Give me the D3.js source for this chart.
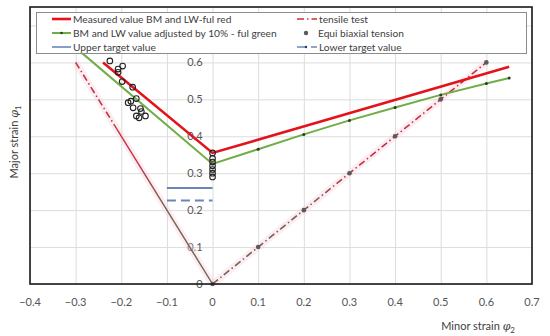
<!DOCTYPE html>
<html>
<head>
<meta charset="utf-8">
<script src="https://cdn.jsdelivr.net/npm/d3@7"></script>
<style>
  body { margin: 0; background: #fff; }
  svg text { font-family: Lato, "Open Sans", sans-serif; }
</style>
</head>
<body>
<svg id="chart"></svg>
<script>
'use strict'

var WIDTH = 550,
	HEIGHT = 336;

// --- data ---
var xTicks = [-0.4, -0.3, -0.2, -0.1, 0, 0.1, 0.2, 0.3, 0.4, 0.5, 0.6, 0.7];
var yTicks = [0, 0.1, 0.2, 0.3, 0.4, 0.5, 0.6, 0.7];
var yLabels = [0, 0.1, 0.2, 0.3, 0.4, 0.5, 0.6]; // 0.7 sits under the legend

var measuredX = [-0.24, 0, 0.65];
var measuredY = [0.60, 0.355, 0.588];

var adjustedX = [-0.30, 0, 0.1, 0.2, 0.3, 0.4, 0.5, 0.6, 0.65];
var adjustedY = [0.64, 0.325, 0.365, 0.405, 0.443, 0.478, 0.512, 0.543, 0.558];

// tensile test: upper part dash-dot, lower left part drawn solid in the original
var tensileUpperX = [-0.30, -0.215];
var tensileUpperY = [0.60, 0.43];
var tensileLowerX = [-0.215, 0];
var tensileLowerY = [0.43, 0];
var tensileRightX = [0, 0.6];
var tensileRightY = [0, 0.6];

var equiX = [0, 0.1, 0.2, 0.3, 0.4, 0.5, 0.6];
var equiY = [0, 0.1, 0.2, 0.3, 0.4, 0.5, 0.6];

var upperTargetX = [-0.1, 0];
var upperTargetY = [0.26, 0.26];
var lowerTargetX = [-0.1, 0];
var lowerTargetY = [0.226, 0.226];

// measured points (open circles)
var pointsX = [-0.225, -0.207, -0.197, -0.207, -0.198, -0.175, -0.185, -0.179, -0.167, -0.174, -0.158, -0.156, -0.167, -0.161, -0.147,
	0, 0, 0, 0, 0, 0, 0];
var pointsY = [0.604, 0.582, 0.590, 0.573, 0.548, 0.533, 0.491, 0.495, 0.502, 0.477, 0.475, 0.467, 0.455, 0.450, 0.455,
	0.355, 0.340, 0.330, 0.320, 0.310, 0.300, 0.290];

var legendLeft = ["Measured value BM and LW-ful red", "BM and LW value adjusted by 10% - ful green", "Upper target value"];
var legendRight = ["tensile test", "Equi biaxial tension", "Lower target value"];

var RED = "#e3131b",
	GREEN = "#70ad47",
	BLUE = "#6a86b8",
	TENSILE_TOP = "#c8303f",
	TENSILE_BOTTOM = "#756050";

function zip(xs, ys) {
	return xs.map(function (x, i) { return [x, ys[i]]; });
}

var svg = d3.select("#chart")
	.attr("width", WIDTH)
	.attr("height", HEIGHT);

var x = d3.scaleLinear().domain([-0.4, 0.7]).range([30, 532]);
var y = d3.scaleLinear().domain([0, 0.75]).range([284, 7]);

var line = d3.line()
	.x(function (d) { return x(d[0]); })
	.y(function (d) { return y(d[1]); });

// gradient for tensile test line (red at top, brown near origin)
var defs = svg.append("defs");
var grad = defs.append("linearGradient")
	.attr("id", "tensileGrad")
	.attr("gradientUnits", "userSpaceOnUse")
	.attr("x1", 0).attr("x2", 0)
	.attr("y1", y(0.6)).attr("y2", y(0));
grad.append("stop").attr("offset", "0%").attr("stop-color", TENSILE_TOP);
grad.append("stop").attr("offset", "45%").attr("stop-color", TENSILE_TOP);
grad.append("stop").attr("offset", "65%").attr("stop-color", TENSILE_BOTTOM);
grad.append("stop").attr("offset", "100%").attr("stop-color", TENSILE_BOTTOM);

// gridlines
svg.append("g")
	.attr("transform", "translate(0,284)")
	.call(d3.axisBottom(x).tickValues(xTicks).tickSize(-277).tickFormat(""))
	.call(function (g) {
		g.select(".domain").remove();
		g.selectAll("line").attr("stroke", "#dcdcdc").attr("stroke-width", 1);
	});
svg.append("g")
	.attr("transform", "translate(30,0)")
	.call(d3.axisLeft(y).tickValues(yTicks).tickSize(-502).tickFormat(""))
	.call(function (g) {
		g.select(".domain").remove();
		g.selectAll("line").attr("stroke", "#dcdcdc").attr("stroke-width", 1);
	});

// y tick labels sit next to the zero line
svg.append("g")
	.selectAll("text")
	.data(yLabels)
	.enter().append("text")
	.attr("x", x(0) - 10)
	.attr("y", function (d) { return y(d) + 4; })
	.attr("text-anchor", "end")
	.style("font-size", "11px")
	.style("fill", "#555")
	.text(function (d) { return d === 0 ? "0" : d3.format(".1f")(d); });

// x tick labels
svg.append("g")
	.selectAll("text")
	.data(xTicks)
	.enter().append("text")
	.attr("x", function (d) { return x(d); })
	.attr("y", 306)
	.attr("text-anchor", "middle")
	.style("font-size", "11px")
	.style("fill", "#555")
	.text(function (d) { return d === 0 ? "0" : d3.format(".1f")(d); });

// soft pink glow on the tensile lines
[zip(tensileUpperX, tensileUpperY), zip(tensileLowerX, tensileLowerY), zip(tensileRightX, tensileRightY)].forEach(function (pts) {
	svg.append("path")
		.datum(pts)
		.attr("d", line)
		.attr("fill", "none")
		.attr("stroke", "#f6d3dc")
		.attr("stroke-width", 7)
		.attr("stroke-opacity", 0.4);
});

// tensile test lines
svg.append("path")
	.datum(zip(tensileUpperX, tensileUpperY))
	.attr("d", line)
	.attr("fill", "none")
	.attr("stroke", "url(#tensileGrad)")
	.attr("stroke-width", 1.6)
	.attr("stroke-dasharray", "7,3,1.5,3");
svg.append("path")
	.datum(zip(tensileLowerX, tensileLowerY))
	.attr("d", line)
	.attr("fill", "none")
	.attr("stroke", "url(#tensileGrad)")
	.attr("stroke-width", 1.4);
svg.append("path")
	.datum(zip(tensileRightX, tensileRightY))
	.attr("d", line)
	.attr("fill", "none")
	.attr("stroke", "url(#tensileGrad)")
	.attr("stroke-width", 1.6)
	.attr("stroke-dasharray", "7,3,1.5,3");

// equi biaxial markers
svg.append("g")
	.selectAll("circle")
	.data(zip(equiX, equiY))
	.enter().append("circle")
	.attr("cx", function (d) { return x(d[0]); })
	.attr("cy", function (d) { return y(d[1]); })
	.attr("r", 2.3)
	.style("fill", "#5a5a5a");

// target values
svg.append("path")
	.datum(zip(upperTargetX, upperTargetY))
	.attr("d", line)
	.attr("stroke", BLUE)
	.attr("stroke-width", 2);
svg.append("path")
	.datum(zip(lowerTargetX, lowerTargetY))
	.attr("d", line)
	.attr("stroke", BLUE)
	.attr("stroke-width", 2)
	.attr("stroke-dasharray", "9,5");

// adjusted (green)
svg.append("path")
	.datum(zip(adjustedX, adjustedY))
	.attr("d", line)
	.attr("fill", "none")
	.attr("stroke", GREEN)
	.attr("stroke-width", 2);
svg.append("g")
	.selectAll("circle")
	.data(zip(adjustedX, adjustedY).slice(2))
	.enter().append("circle")
	.attr("cx", function (d) { return x(d[0]); })
	.attr("cy", function (d) { return y(d[1]); })
	.attr("r", 1.5)
	.style("fill", "#2f3b25");

// measured (red)
svg.append("path")
	.datum(zip(measuredX, measuredY))
	.attr("d", line)
	.attr("fill", "none")
	.attr("stroke", RED)
	.attr("stroke-width", 2.6);

// measured points
svg.append("g")
	.selectAll("circle")
	.data(zip(pointsX, pointsY))
	.enter().append("circle")
	.attr("cx", function (d) { return x(d[0]); })
	.attr("cy", function (d) { return y(d[1]); })
	.attr("r", 2.8)
	.style("fill", "none")
	.style("stroke", "#222")
	.style("stroke-width", 1.1);

// plot border
svg.append("rect")
	.attr("x", 30).attr("y", 7)
	.attr("width", 502).attr("height", 277)
	.attr("fill", "none")
	.attr("stroke", "#1a1a1a")
	.attr("stroke-width", 1.6);

// legend
var legend = svg.append("g");
legend.append("rect")
	.attr("x", 36.5).attr("y", 12.5)
	.attr("width", 490).attr("height", 41)
	.attr("fill", "#fff")
	.attr("stroke", "#8c8c8c")
	.attr("stroke-width", 1);

var rowY = [19, 33, 47];

// left column samples
legend.append("line").attr("x1", 52).attr("x2", 71).attr("y1", rowY[0]).attr("y2", rowY[0])
	.attr("stroke", RED).attr("stroke-width", 2.6);
legend.append("line").attr("x1", 52).attr("x2", 71).attr("y1", rowY[1]).attr("y2", rowY[1])
	.attr("stroke", GREEN).attr("stroke-width", 2);
legend.append("circle").attr("cx", 61.5).attr("cy", rowY[1]).attr("r", 1.3).style("fill", "#2f3b25");
legend.append("line").attr("x1", 52).attr("x2", 71).attr("y1", rowY[2]).attr("y2", rowY[2])
	.attr("stroke", BLUE).attr("stroke-width", 1.6);

// right column samples
legend.append("line").attr("x1", 297).attr("x2", 317).attr("y1", rowY[0]).attr("y2", rowY[0])
	.attr("stroke", TENSILE_TOP).attr("stroke-width", 1.6).attr("stroke-dasharray", "7,3,1.5,3");
legend.append("circle").attr("cx", 306).attr("cy", rowY[1]).attr("r", 2.2).style("fill", "#5a5a5a");
legend.append("line").attr("x1", 297).attr("x2", 317).attr("y1", rowY[2]).attr("y2", rowY[2])
	.attr("stroke", BLUE).attr("stroke-width", 1.6).attr("stroke-dasharray", "9,5");
legend.append("circle").attr("cx", 306).attr("cy", rowY[2]).attr("r", 1.2).style("fill", "#2b3a55");

legend.selectAll("text.left")
	.data(legendLeft)
	.enter().append("text")
	.attr("class", "left")
	.attr("x", 73)
	.attr("y", function (d, i) { return rowY[i] + 4; })
	.style("font-size", "10.2px")
	.style("fill", "#404040")
	.text(function (d) { return d; });

legend.selectAll("text.right")
	.data(legendRight)
	.enter().append("text")
	.attr("class", "right")
	.attr("x", function (d, i) { return i === 1 ? 318 : 319; })
	.attr("y", function (d, i) { return rowY[i] + 4; })
	.style("font-size", "10.2px")
	.style("fill", "#404040")
	.text(function (d) { return d; });

// axis titles
var xTitle = svg.append("text")
	.attr("x", 515)
	.attr("y", 330)
	.attr("text-anchor", "end")
	.style("font-size", "11px")
	.style("fill", "#404040");
xTitle.append("tspan").text("Minor strain ");
xTitle.append("tspan").style("font-style", "italic").style("font-family", "'DejaVu Serif', serif").text("φ");
xTitle.append("tspan").attr("dy", 3).style("font-size", "8px").text("2");

var yTitle = svg.append("text")
	.attr("transform", "translate(18,142) rotate(-90)")
	.attr("text-anchor", "middle")
	.style("font-size", "11px")
	.style("fill", "#404040");
yTitle.append("tspan").text("Major strain ");
yTitle.append("tspan").style("font-style", "italic").style("font-family", "'DejaVu Serif', serif").text("φ");
yTitle.append("tspan").attr("dy", 3).style("font-size", "8px").text("1");
</script>
</body>
</html>
